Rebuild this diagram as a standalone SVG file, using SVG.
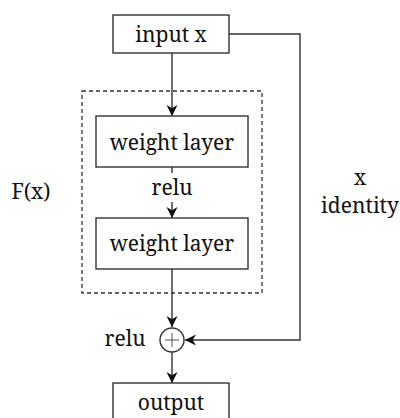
<svg xmlns="http://www.w3.org/2000/svg" width="400" height="418" viewBox="0 0 400 418">
<style>
.box{fill:#fff;stroke:#333;stroke-width:1.4}
text{font-family:'Noto Serif','DejaVu Serif',serif;font-size:21px;fill:#111;text-anchor:middle}
.c{fill:none;stroke:#333;stroke-width:1.4}
</style>
<defs>
<marker id="ah" viewBox="0 0 10 10" refX="10" refY="5" markerWidth="11" markerHeight="11" markerUnits="userSpaceOnUse" orient="auto">
<path d="M0,0 L10,5 L0,10 L3,5 z" fill="#111"/>
</marker>
</defs>
<g id="residual">
<rect x="82" y="91" width="180" height="202" fill="none" stroke="#333" stroke-width="1.3" stroke-dasharray="4,3"/>
<text x="31" y="199">F(x)</text>
</g>
<g id="connectors">
<line class="c" x1="172" y1="53" x2="172" y2="116" marker-end="url(#ah)"/>
<line class="c" x1="172" y1="167" x2="172" y2="173"/>
<line class="c" x1="172" y1="202" x2="172" y2="218" marker-end="url(#ah)"/>
<line class="c" x1="172" y1="269" x2="172" y2="327" marker-end="url(#ah)"/>
<line class="c" x1="172" y1="352" x2="172" y2="383" marker-end="url(#ah)"/>
<polyline class="c" points="229,34 300,34 300,340 185,340" marker-end="url(#ah)"/>
</g>
<g id="input">
<rect class="box" x="113" y="15" width="116" height="38"/>
<text x="171" y="42">input x</text>
</g>
<g id="weight1">
<rect class="box" x="96" y="116" width="152" height="51"/>
<text x="172" y="150">weight layer</text>
</g>
<g id="relu1">
<text x="172" y="195">relu</text>
</g>
<g id="weight2">
<rect class="box" x="96" y="218" width="152" height="51"/>
<text x="172" y="251">weight layer</text>
</g>
<g id="add">
<circle cx="172" cy="340" r="12" fill="#fff" stroke="#333" stroke-width="1.4"/>
<path d="M165,340 H179 M172,333 V347" stroke="#555" stroke-width="1"/>
<text x="125" y="346">relu</text>
</g>
<g id="output">
<rect class="box" x="113" y="383" width="116" height="50"/>
<text x="171" y="410">output</text>
</g>
<g id="identity">
<text x="360" y="185">x</text>
<text x="360" y="213">identity</text>
</g>
</svg>
